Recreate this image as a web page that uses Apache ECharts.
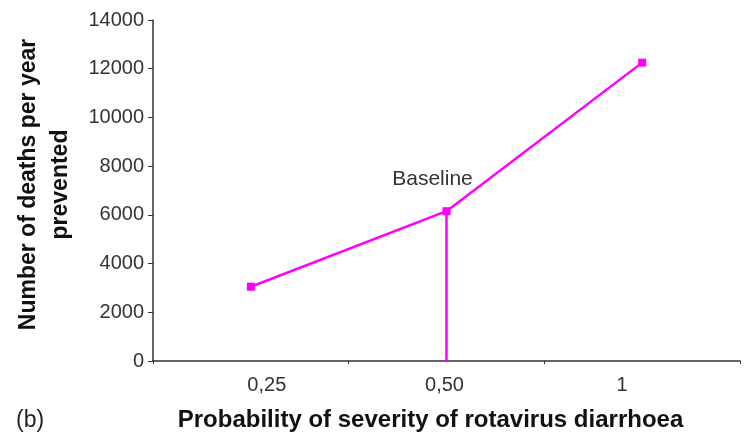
<!DOCTYPE html>
<html><head><meta charset="utf-8">
<script src="https://cdn.jsdelivr.net/npm/echarts@6/dist/echarts.min.js"></script>
<style>html,body{margin:0;padding:0;background:#fff}#c{width:749px;height:441px}</style>
</head><body><div id="c"></div>
<script>
const categories = ['0,25', '0,50', '1'];
const deathsPrevented = [3050, 6150, 12250];
const yTicks = [0, 2000, 4000, 6000, 8000, 10000, 12000, 14000];
const baselineCategory = '0,50';
const baselineValue = 6150;

// label drift seen in the reference (styling only)
const labelPad = {'0,25': [0, 0, 0, 32], '0,50': [0, 4, 0, 0], '1': [0, 40, 0, 0]};

const FONT = '"Liberation Sans", Arial, sans-serif';
const rich = {};
categories.forEach((c, i) => {
  rich['l' + i] = {fontSize: 20, color: '#333', fontFamily: FONT, padding: labelPad[c]};
});

const chart = echarts.init(document.getElementById('c'), null, {renderer: 'canvas'});
chart.setOption({
  animation: false,
  backgroundColor: '#fff',
  textStyle: {fontFamily: FONT},
  grid: {left: 153, right: 9, top: 20, bottom: 80},
  graphic: [
    {type: 'text', left: 16, top: 409, style: {text: '(b)', font: '23px ' + FONT, fill: '#222'}}
  ],
  xAxis: {
    type: 'category',
    data: categories,
    boundaryGap: true,
    name: 'Probability of severity of rotavirus diarrhoea',
    nameLocation: 'middle',
    nameGap: 47,
    nameTextStyle: {fontSize: 24, fontWeight: 'bold', color: '#111', fontFamily: FONT, padding: [0, 32, 0, 0]},
    axisLine: {lineStyle: {color: '#333', width: 1.5}},
    axisTick: {show: true, length: 3, lineStyle: {color: '#333'}},
    axisLabel: {
      margin: 14,
      formatter: (v) => '{l' + categories.indexOf(v) + '|' + v + '}',
      rich: rich
    },
    splitLine: {show: false}
  },
  yAxis: {
    type: 'value',
    min: yTicks[0], max: yTicks[yTicks.length - 1], interval: yTicks[1] - yTicks[0],
    name: 'Number of deaths per year\nprevented',
    nameLocation: 'middle',
    nameGap: 76,
    nameRotate: 90,
    nameTextStyle: {fontSize: 23, fontWeight: 'bold', color: '#111', lineHeight: 32, fontFamily: FONT, padding: [0, 0, 0, 12]},
    axisLine: {show: true, lineStyle: {color: '#333', width: 1.5}},
    axisTick: {show: true, length: 5, lineStyle: {color: '#333'}},
    axisLabel: {fontSize: 20, color: '#333', margin: 9, fontFamily: FONT, formatter: (v) => String(v)},
    splitLine: {show: false}
  },
  series: [{
    type: 'line',
    data: deathsPrevented.map((v, i) => categories[i] === baselineCategory ? {
      value: v,
      label: {show: true, formatter: 'Baseline', position: 'top', offset: [-14, -13], fontSize: 21, color: '#333', fontFamily: FONT}
    } : v),
    symbol: 'rect',
    symbolSize: 8,
    lineStyle: {color: '#ff00ff', width: 2.5},
    itemStyle: {color: '#ff00ff'},
    markLine: {
      silent: true,
      symbol: ['none', 'none'],
      label: {show: false},
      lineStyle: {color: '#ff00ff', width: 2.5, type: 'solid'},
      data: [[{coord: [baselineCategory, baselineValue]}, {coord: [baselineCategory, 0]}]]
    }
  }]
});
</script></body></html>
